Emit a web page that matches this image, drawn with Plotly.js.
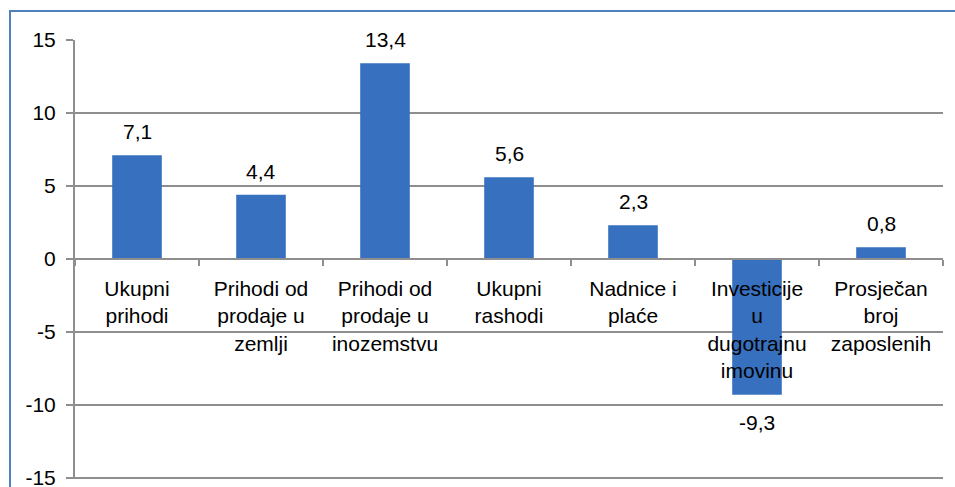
<!DOCTYPE html>
<html>
<head>
<meta charset="utf-8">
<script src="https://cdn.plot.ly/plotly-3.0.1.min.js"></script>
<style>
  html, body { margin: 0; padding: 0; background: #fff; overflow: hidden; }
  #frame { position: absolute; left: 9px; top: 10px; width: 960px; height: 500px; border: 2px solid #4f81bd; box-sizing: border-box; }
  #chart { position: absolute; left: 0; top: 0; width: 955px; height: 487px; }
</style>
</head>
<body>
<div id="frame"></div>
<div id="chart"></div>
<script>
const categories = [
  "Ukupni<br>prihodi",
  "Prihodi od<br>prodaje u<br>zemlji",
  "Prihodi od<br>prodaje u<br>inozemstvu",
  "Ukupni<br>rashodi",
  "Nadnice i<br>plaće",
  "Investicije<br>u<br>dugotrajnu<br>imovinu",
  "Prosječan<br>broj<br>zaposlenih"
];
const values = [7.1, 4.4, 13.4, 5.6, 2.3, -9.3, 0.8];
const yTicks = [-15, -10, -5, 0, 5, 10, 15];
const yRange = [-15.08, 15];

const fontFamily = "'Liberation Sans', Arial, sans-serif";
const fontSize = 21;
const gray = "#8e8e8e";

const trace = {
  type: "bar",
  x: categories,
  y: values,
  marker: { color: "#3670bf", line: { width: 0 } },
  hoverinfo: "skip"
};

const annotations = values.map((v, i) => ({
  x: categories[i],
  y: v,
  xref: "x",
  yref: "y",
  text: v.toFixed(1).replace(".", ","),
  showarrow: false,
  yanchor: v >= 0 ? "bottom" : "top",
  yshift: v >= 0 ? 10 : -14,
  font: { family: fontFamily, size: fontSize, color: "#000" }
}));

const layout = {
  width: 955,
  height: 487,
  margin: { l: 75, r: 12, t: 40, b: 8 },
  paper_bgcolor: "rgba(0,0,0,0)",
  plot_bgcolor: "rgba(0,0,0,0)",
  showlegend: false,
  bargap: 0.6,
  font: { family: fontFamily, size: fontSize, color: "#000" },
  xaxis: {
    type: "category",
    anchor: "free",
    position: (0 - yRange[0]) / (yRange[1] - yRange[0]),
    showline: true,
    linecolor: gray,
    linewidth: 2,
    ticks: "outside",
    tickson: "boundaries",
    ticklen: 6,
    tickcolor: gray,
    tickwidth: 2,
    ticklabelstandoff: 11,
    showgrid: false,
    zeroline: false,
    tickfont: { family: fontFamily, size: fontSize, color: "#000" },
    fixedrange: true
  },
  yaxis: {
    range: yRange,
    tickvals: yTicks,
    ticktext: yTicks.map(String),
    showline: true,
    linecolor: gray,
    linewidth: 2,
    ticks: "outside",
    ticklen: 7,
    tickcolor: gray,
    tickwidth: 2,
    ticklabelstandoff: 6,
    ticklabeloverflow: "allow",
    showgrid: true,
    gridcolor: gray,
    gridwidth: 2,
    zeroline: false,
    tickfont: { family: fontFamily, size: fontSize, color: "#000" },
    fixedrange: true
  },
  annotations: annotations
};

Plotly.newPlot("chart", [trace], layout, { displayModeBar: false, staticPlot: true });
</script>
</body>
</html>
